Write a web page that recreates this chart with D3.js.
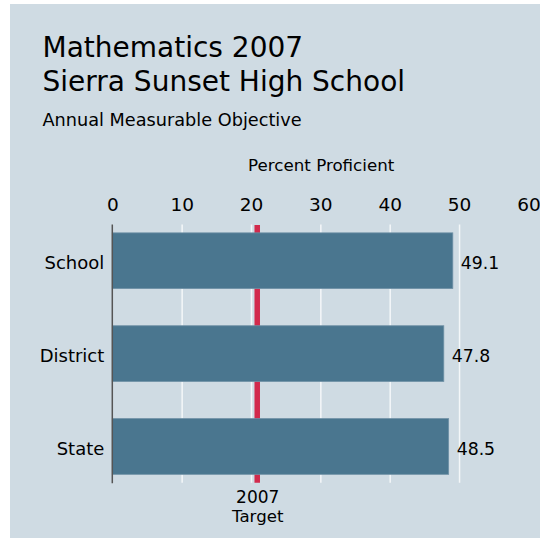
<!DOCTYPE html>
<html>
<head>
  <meta charset="utf-8">
  <script src="https://d3js.org/d3.v7.min.js"></script>
  <style>
    body { margin: 0; background: #fff; }
    text { font-family: "DejaVu Sans", sans-serif; fill: #000; }
  </style>
</head>
<body>
<div id="chartArea"></div>
<script>
  // chart values
  var categories = ["School", "District", "State"];
  var values = [49.1, 47.8, 48.5];
  var tickValues = [0, 10, 20, 30, 40, 50, 60];
  var gridValues = [10, 20, 30, 40, 50];
  var target = 20.9;
  var targetLabel = ["2007", "Target"];
  var titleLines = ["Mathematics 2007", "Sierra Sunset High School"];
  var subtitle = "Annual Measurable Objective";
  var axisTitle = "Percent Proficient";

  var w = 540, h = 539;
  var plotTop = 224.5, plotBottom = 482.7;

  var svg = d3.select("#chartArea")
              .append("svg")
              .attr("width", w)
              .attr("height", h);

  // panel background
  svg.append("rect")
     .attr("x", 10).attr("y", 4)
     .attr("width", 530).attr("height", 534)
     .attr("fill", "#cfdbe3");

  var xScale = d3.scaleLinear().domain([0, 60]).range([112.3, 528.4]);
  var yScale = d3.scaleBand().domain(categories)
                 .range([plotTop, plotBottom])
                 .paddingInner(0.4)
                 .paddingOuter(0.09);

  // titles
  svg.selectAll(".title")
     .data(titleLines)
     .enter()
     .append("text")
     .attr("class", "title")
     .attr("x", 42.5)
     .attr("y", function(d, i) { return 57.3 + i * 33.8; })
     .style("font-size", "28px")
     .text(function(d) { return d; });

  svg.append("text")
     .attr("x", 42.5).attr("y", 126)
     .style("font-size", "17.7px")
     .text(subtitle);

  svg.append("text")
     .attr("x", 321.2).attr("y", 170.7)
     .attr("text-anchor", "middle")
     .style("font-size", "16.7px")
     .text(axisTitle);

  // gridlines
  var grid = svg.append("g")
     .attr("transform", "translate(0," + plotBottom + ")")
     .call(d3.axisBottom(xScale).tickValues(gridValues).tickSize(-(plotBottom - plotTop)).tickFormat(""));
  grid.select(".domain").remove();
  grid.selectAll("line").attr("stroke", "#f4f7f9").attr("stroke-width", 1.5);

  // top tick labels
  var xAxis = svg.append("g")
     .attr("transform", "translate(0," + plotTop + ")")
     .call(d3.axisTop(xScale).tickValues(tickValues).tickSize(0).tickPadding(14));
  xAxis.select(".domain").remove();
  xAxis.selectAll("text")
       .style("font-size", "18.5px")
       .style("font-family", "'DejaVu Sans', sans-serif")
       .attr("fill", "#000");

  // target line
  svg.append("line")
     .attr("x1", xScale(target)).attr("x2", xScale(target))
     .attr("y1", plotTop + 0.5).attr("y2", plotBottom)
     .attr("stroke", "#d22a4c")
     .attr("stroke-width", 5.5);

  // bars
  svg.selectAll(".bar")
     .data(values)
     .enter()
     .append("rect")
     .attr("class", "bar")
     .attr("x", xScale(0))
     .attr("y", function(d, i) { return yScale(categories[i]); })
     .attr("width", function(d) { return xScale(d) - xScale(0); })
     .attr("height", yScale.bandwidth())
     .attr("fill", "#4a768f")
     .attr("stroke", "#6f91a6")
     .attr("stroke-width", 0.8);

  // y axis line
  svg.append("line")
     .attr("x1", xScale(0)).attr("x2", xScale(0))
     .attr("y1", plotTop).attr("y2", plotBottom + 0.5)
     .attr("stroke", "#555")
     .attr("stroke-width", 1.5);

  // category labels
  var yAxis = svg.append("g")
     .attr("transform", "translate(" + xScale(0) + ",0)")
     .call(d3.axisLeft(yScale).tickSize(0).tickPadding(8));
  yAxis.select(".domain").remove();
  yAxis.selectAll("text")
       .attr("dy", "0.48em")
       .style("font-size", "18px")
       .style("font-family", "'DejaVu Sans', sans-serif")
       .attr("fill", "#000");

  // value labels
  svg.selectAll(".val")
     .data(values)
     .enter()
     .append("text")
     .attr("class", "val")
     .attr("x", function(d) { return xScale(d) + 8; })
     .attr("y", function(d, i) { return yScale(categories[i]) + yScale.bandwidth() / 2; })
     .attr("dy", "0.48em")
     .style("font-size", "17.3px")
     .text(function(d) { return d.toFixed(1); });

  // target label
  svg.selectAll(".tlab")
     .data(targetLabel)
     .enter()
     .append("text")
     .attr("class", "tlab")
     .attr("x", xScale(target) + 0.5)
     .attr("y", function(d, i) { return 503.3 + i * 18.4; })
     .attr("text-anchor", "middle")
     .style("font-size", function(d, i) { return i == 0 ? "17px" : "16.6px"; })
     .text(function(d) { return d; });
</script>
</body>
</html>
